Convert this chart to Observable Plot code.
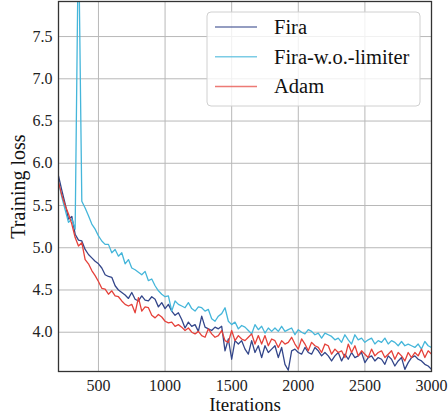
<!DOCTYPE html>
<html><head><meta charset="utf-8">
<script src="https://cdn.jsdelivr.net/npm/d3@7"></script>
<script src="https://cdn.jsdelivr.net/npm/@observablehq/plot@0.6"></script>
<style>body{margin:0;background:#fff;} #chart{width:448px;height:417px;}</style>
</head><body><div id="chart"></div>
<script>
// iterations: 200, 225, ..., 3000
const iterStart = 200, iterStep = 25;
const fira = [
  5.85,5.68,5.52,5.34,5.37,5.16,5.09,5.08,
  4.98,4.92,4.88,4.84,4.81,4.76,4.68,4.66,
  4.65,4.55,4.50,4.47,4.44,4.40,4.47,4.39,
  4.37,4.43,4.38,4.37,4.42,4.39,4.30,4.35,
  4.28,4.33,4.25,4.20,4.23,4.15,4.05,4.12,
  4.07,4.09,4.01,4.19,4.06,4.04,4.02,4.06,
  4.04,4.07,3.78,3.92,3.68,3.90,3.86,3.90,
  3.80,3.74,3.90,3.76,3.84,3.70,3.84,3.76,
  3.80,3.84,3.70,3.82,3.62,3.55,3.78,3.80,
  3.76,3.74,3.82,3.76,3.74,3.82,3.78,3.72,
  3.76,3.72,3.66,3.72,3.76,3.66,3.74,3.68,
  3.76,3.70,3.72,3.76,3.64,3.70,3.72,3.66,
  3.70,3.68,3.62,3.72,3.68,3.60,3.66,3.70,
  3.56,3.64,3.70,3.72,3.68,3.66,3.62,3.60,
  3.56
];
const firaNoLimiter = [
  5.78,5.60,5.45,5.30,5.34,5.22,8.80,5.55,
  5.47,5.38,5.28,5.22,5.14,5.08,5.04,5.04,
  4.94,4.98,4.90,4.94,4.81,4.86,4.76,4.74,
  4.71,4.68,4.72,4.61,4.63,4.55,4.49,4.45,
  4.42,4.43,4.25,4.37,4.33,4.31,4.29,4.35,
  4.28,4.25,4.30,4.29,4.25,4.27,4.16,4.13,
  4.19,4.22,4.29,4.13,4.09,4.12,4.04,4.08,
  4.06,4.02,3.98,4.09,4.03,4.07,3.99,4.05,
  4.01,4.05,4.01,4.07,4.01,4.03,4.05,3.97,
  4.03,4.00,3.98,4.03,4.01,3.97,3.99,3.93,
  3.99,3.97,3.95,3.91,3.93,3.88,3.97,3.91,
  3.86,3.97,3.91,3.93,3.88,3.91,3.93,3.86,
  3.90,3.88,3.93,3.86,3.90,3.88,3.84,3.89,
  3.84,3.86,3.84,3.82,3.86,3.80,3.89,3.84,
  3.82
];
const adam = [
  5.78,5.62,5.50,5.40,5.28,5.12,5.02,5.06,
  4.86,4.81,4.73,4.67,4.60,4.52,4.51,4.45,
  4.49,4.43,4.42,4.37,4.33,4.31,4.33,4.23,
  4.41,4.25,4.30,4.29,4.20,4.17,4.21,4.18,
  4.13,4.11,4.12,4.07,4.09,4.06,4.02,4.05,
  4.00,3.98,4.01,3.96,3.94,4.04,3.98,3.94,
  3.96,4.02,3.90,3.88,4.02,3.90,3.96,3.92,
  3.90,3.94,3.98,3.86,3.96,3.86,3.96,3.84,
  3.92,3.90,3.82,3.90,3.86,3.88,3.94,3.86,
  3.80,3.92,3.86,3.78,3.88,3.84,3.82,3.76,
  3.86,3.84,3.74,3.80,3.76,3.78,3.70,3.86,
  3.76,3.84,3.72,3.78,3.74,3.70,3.80,3.72,
  3.76,3.78,3.70,3.74,3.78,3.68,3.76,3.72,
  3.66,3.76,3.70,3.76,3.72,3.80,3.70,3.78,
  3.74
];
const seriesNames = ["Fira", "Fira-w.o.-limiter", "Adam"];
const seriesColors = ["#33468a", "#45b6da", "#e5413a"];
const xTicks = [500, 1000, 1500, 2000, 2500, 3000];
const yTicks = [4.0, 4.5, 5.0, 5.5, 6.0, 6.5, 7.0, 7.5];
const xDomain = [200, 3000];
const yDomain = [3.535, 7.915];

const rows = [];
[fira, firaNoLimiter, adam].forEach((vals, k) =>
  vals.forEach((v, i) => rows.push({series: seriesNames[k], it: iterStart + iterStep * i, loss: v})));

const serif = "'Liberation Serif', 'Times New Roman', serif";
const plot = Plot.plot({
  width: 448, height: 417,
  marginTop: 1, marginRight: 17, marginBottom: 46, marginLeft: 58,
  style: {fontFamily: serif, background: "white", color: "#222"},
  x: {domain: xDomain},
  y: {domain: yDomain},
  color: {domain: seriesNames, range: seriesColors},
  marks: [
    Plot.gridX(xTicks, {stroke: "#b8b8b8", strokeOpacity: 1, strokeWidth: 1}),
    Plot.gridY(yTicks, {stroke: "#b8b8b8", strokeOpacity: 1, strokeWidth: 1}),
    Plot.lineY(rows, {x: "it", y: "loss", z: "series", stroke: "series", strokeWidth: 1.3, clip: true}),
    Plot.frame({stroke: "#333", strokeWidth: 1.3}),
    Plot.axisX(xTicks, {tickSize: 0, tickPadding: 8, fontSize: 16, tickFormat: d3.format("d"), label: null}),
    Plot.axisY(yTicks, {tickSize: 0, tickPadding: 6, fontSize: 16, tickFormat: d3.format(".1f"), label: null}),
    Plot.text(["Iterations"], {frameAnchor: "bottom", lineAnchor: "middle", textAnchor: "middle", dy: 33, fontSize: 19, fill: "#111"}),
    Plot.text(["Training loss"], {frameAnchor: "left", lineAnchor: "middle", textAnchor: "middle", dx: -40, rotate: -90, fontSize: 20, fill: "#111"})
  ]
});

// legend inside the plot (top right)
const svg = d3.select(plot);
const lg = svg.append("g").attr("font-family", serif).attr("font-size", 20.5).attr("text-anchor", "start");
lg.append("rect").attr("x", 207).attr("y", 12).attr("width", 213).attr("height", 94)
  .attr("rx", 4).attr("fill", "white").attr("fill-opacity", 0.8)
  .attr("stroke", "#d0d0d0").attr("stroke-width", 1);
seriesNames.forEach((name, i) => {
  const y = 27 + i * 29.7;
  lg.append("line").attr("x1", 215).attr("x2", 257).attr("y1", y).attr("y2", y)
    .attr("stroke", seriesColors[i]).attr("stroke-width", 1.5).attr("stroke-opacity", 0.7);
  lg.append("text").attr("x", 274).attr("y", y + 7).attr("fill", "#111").text(name);
});

document.getElementById("chart").appendChild(plot);
</script>
</body></html>
